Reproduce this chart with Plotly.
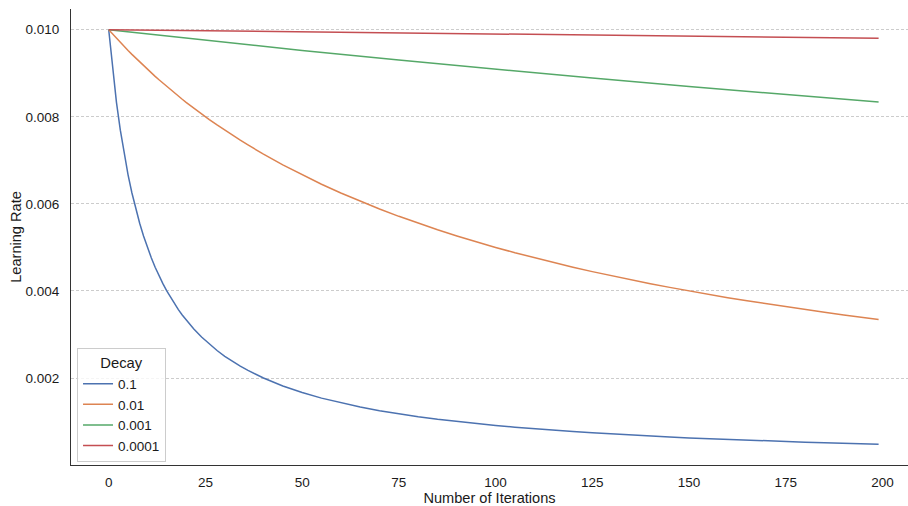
import plotly.graph_objects as go

# ---- data ----
iters_fine = list(range(0, 21)) + list(range(22, 41, 2)) + list(range(45, 196, 5)) + [199]
lr_decay_0_1 = [
    0.01, 0.009091, 0.008333, 0.007692, 0.007143, 0.006667, 0.00625, 0.005882, 0.005556, 0.005263,
    0.005, 0.004762, 0.004545, 0.004348, 0.004167, 0.004, 0.003846, 0.003704, 0.003571, 0.003448,
    0.003333,
    0.003125, 0.002941, 0.002778, 0.002632, 0.0025, 0.002381, 0.002273, 0.002174, 0.002083, 0.002,
    0.001818, 0.001667, 0.001538, 0.001429, 0.001333, 0.00125, 0.001176, 0.001111, 0.001053, 0.001,
    0.000952, 0.000909, 0.00087, 0.000833, 0.0008, 0.000769, 0.000741, 0.000714, 0.00069, 0.000667,
    0.000645, 0.000625, 0.000606, 0.000588, 0.000571, 0.000556, 0.000541, 0.000526, 0.000513, 0.0005,
    0.000488, 0.000478,
]
lr_decay_0_01 = [
    0.01, 0.009901, 0.009804, 0.009709, 0.009615, 0.009524, 0.009434, 0.009346, 0.009259, 0.009174,
    0.009091, 0.009009, 0.008929, 0.00885, 0.008772, 0.008696, 0.008621, 0.008547, 0.008475, 0.008403,
    0.008333,
    0.008197, 0.008065, 0.007937, 0.007813, 0.007692, 0.007576, 0.007463, 0.007353, 0.007246, 0.007143,
    0.006897, 0.006667, 0.006452, 0.00625, 0.006061, 0.005882, 0.005714, 0.005556, 0.005405, 0.005263,
    0.005128, 0.005, 0.004878, 0.004762, 0.004651, 0.004545, 0.004444, 0.004348, 0.004255, 0.004167,
    0.004082, 0.004, 0.003922, 0.003846, 0.003774, 0.003704, 0.003636, 0.003571, 0.003509, 0.003448,
    0.00339, 0.003344,
]
iters_coarse = [0, 25, 50, 75, 100, 125, 150, 175, 199]
lr_decay_0_001 = [0.01, 0.009756, 0.009524, 0.009302, 0.009091, 0.008889, 0.008696, 0.008511, 0.00834]
lr_decay_0_0001 = [0.01, 0.009975, 0.00995, 0.009926, 0.009901, 0.009877, 0.009852, 0.009828, 0.009805]

series = [
    ("0.1", iters_fine, lr_decay_0_1, "#4C72B0"),
    ("0.01", iters_fine, lr_decay_0_01, "#DD8452"),
    ("0.001", iters_coarse, lr_decay_0_001, "#55A868"),
    ("0.0001", iters_coarse, lr_decay_0_0001, "#C44E52"),
]
x_ticks = [0, 25, 50, 75, 100, 125, 150, 175, 200]
y_ticks = [0.002, 0.004, 0.006, 0.008, 0.010]

FONT = "Liberation Sans, Arial, sans-serif"
TXT = "#1a1a1a"

fig = go.Figure()
for name, xs, ys, col in series:
    fig.add_trace(go.Scatter(x=xs, y=ys, mode="lines", name=name,
                             line=dict(color=col, width=1.5)))

fig.update_layout(
    width=908, height=506,
    margin=dict(l=71, r=0, t=9, b=39),
    paper_bgcolor="white", plot_bgcolor="white",
    font=dict(family=FONT, size=13.5, color=TXT),
    showlegend=True,
    legend=dict(
        title=dict(text="Decay", side="top center", font=dict(size=14.8, color=TXT)),
        x=0.0072, y=0.006, xanchor="left", yanchor="bottom",
        bgcolor="rgba(255,255,255,0.8)", bordercolor="#cccccc", borderwidth=1,
        font=dict(size=13.5, color=TXT),
        itemwidth=30, tracegroupgap=0,
    ),
)
fig.update_xaxes(
    range=[-9.75, 206.6], tickvals=x_ticks, showgrid=False, zeroline=False,
    showline=True, linecolor="#333333", linewidth=1.25, ticks="",
    ticklabelstandoff=5,
    title=dict(text="Number of Iterations", font=dict(size=14.6, color=TXT), standoff=5),
)
fig.update_yaxes(
    range=[0.0000024, 0.010476], tickvals=y_ticks, tickformat=".3f",
    showgrid=True, gridcolor="#cccccc", griddash="3px,2px", gridwidth=0.8,
    zeroline=False, showline=True, linecolor="#333333", linewidth=1.25, ticks="",
    ticklabelstandoff=8,
    title=dict(text="Learning Rate", font=dict(size=14.6, color=TXT), standoff=0),
)

fig.write_html("out.html")
